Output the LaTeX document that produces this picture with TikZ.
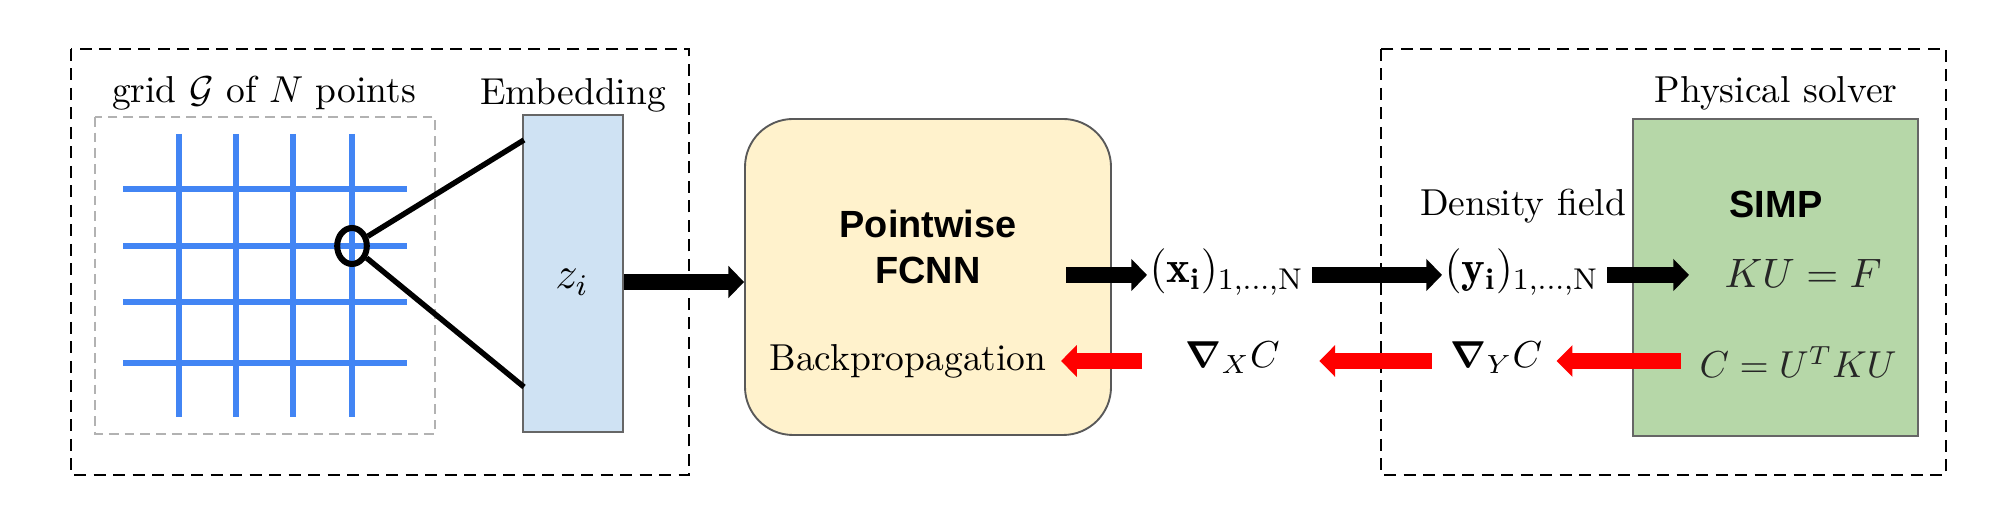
\documentclass[tikz,border=0pt]{standalone}
\usepackage{amsmath,bm}
\usepackage{fontspec}
\newfontfamily\sansfnt{Liberation Sans}
\usetikzlibrary{arrows.meta,shapes.geometric}
\definecolor{gridblue}{RGB}{66,133,244}
\definecolor{embfill}{HTML}{CFE2F3}
\definecolor{fcnnfill}{HTML}{FFF2CC}
\definecolor{simpfill}{HTML}{B6D7A8}
\definecolor{boxedge}{HTML}{666666}
\tikzset{
  txt/.style={inner sep=0.5pt, font=\fontsize{10}{12}\selectfont},
  mathtxt/.style={inner sep=0.5pt, font=\fontsize{10.95}{13}\selectfont},
  gradtxt/.style={inner sep=0.5pt, font=\fontsize{10}{12}\selectfont},
  seqtxt/.style={inner sep=0.5pt, font=\fontsize{12}{14}\selectfont},
  sansbold/.style={inner sep=0.5pt, font=\sansfnt\bfseries\fontsize{10.1}{12.3}\selectfont},
  outerframe/.style={draw=black, line width=0.55pt, dash pattern=on 3.2pt off 2pt},
  gridframe/.style={draw=black!30, line width=0.45pt, dash pattern=on 2.6pt off 1.6pt},
  gridline/.style={draw=gridblue, line width=1.35pt},
  blockbox/.style={draw=boxedge, line width=0.5pt, inner sep=0pt},
  blkarrow/.style={draw=black, line width=4.2pt, -{Triangle[length=4.2pt,width=8.4pt]}},
  redarrow/.style={draw=red, line width=4.2pt, -{Triangle[length=4.2pt,width=8.2pt]}},
  linkline/.style={draw=black, line width=1.45pt},
}
\begin{document}
\begin{tikzpicture}[x=0.26667pt,y=-0.26667pt]
\useasboundingbox (0,0) rectangle (2000,525);
\fill[white] (0,0) rectangle (2000,525);

% outer dashed frames
\draw[outerframe] (71,49) rectangle (689,475);
\draw[outerframe] (1381,49) rectangle (1946,475);

% grid
\draw[gridframe] (95,117) rectangle (435,434);
\foreach \gx in {179,236,293,352} \draw[gridline] (\gx,134) -- (\gx,417);
\foreach \gy in {189,246,302,363} \draw[gridline] (123,\gy) -- (407,\gy);
\node[txt, anchor=base] (gridlab) at (264,103) {grid $\mathcal{G}$ of $N$ points};

% selected point
\node[ellipse, draw=black, line width=1.6pt, minimum width=7.9pt, minimum height=9.6pt, inner sep=0pt] (circ) at (352,246) {};

% embedding
\node[blockbox, fill=embfill, minimum width=26.67pt, minimum height=84.53pt] (emb) at (573,273.5) {};
\node[txt, anchor=base] (emblab) at (573,105) {Embedding};
\node[inner sep=0.5pt, font=\large] (zi) at (572,282) {$z_i$};
\coordinate (e1) at (524,140);
\coordinate (e2) at (524,387);
\draw[linkline] (circ) -- (e1);
\draw[linkline] (circ) -- (e2);

% FCNN
\node[blockbox, draw=black!65, fill=fcnnfill, rounded corners=12.8pt, minimum width=97.6pt, minimum height=84.27pt] (fcnn) at (928,277) {};
\node[sansbold, align=center] (fcnntxt) at (928,247) {Pointwise\\FCNN};
\node[txt, anchor=base] (bp) at (908,371) {Backpropagation};

% labels
\node[seqtxt, anchor=base west] (xlab) at (1147,283) {$(\mathbf{x}_{\mathbf{i}})_{1,\ldots,\mathrm{N}}$};
\node[seqtxt, anchor=base west] (ylab) at (1442,283) {$(\mathbf{y}_{\mathbf{i}})_{1,\ldots,\mathrm{N}}$};
\node[txt, anchor=base] (dens) at (1523,216) {Density field};
\node[gradtxt, anchor=base west] (gx) at (1183,368) {$\boldsymbol{\nabla}_X C$};
\node[gradtxt, anchor=base west] (gy) at (1448,368) {$\boldsymbol{\nabla}_Y C$};

% physical solver
\node[blockbox, fill=simpfill, minimum width=76pt, minimum height=84.53pt] (simp) at (1775.5,277.5) {};
\node[txt, anchor=base] (phys) at (1776,103) {Physical solver};
\node[sansbold, anchor=base] (simptxt) at (1776,218) {SIMP};
\node[mathtxt, anchor=base west, text=black!85] (kuf) at (1722,288) {$KU=F$};
\node[gradtxt, anchor=base west, text=black!85] (cuk) at (1697,378) {$C=U^TKU$};

% forward arrows
\coordinate (a2s) at (1066,275);
\coordinate (rl) at (0,361);
\draw[blkarrow] (emb.east |- zi) -- (fcnn.west |- zi);
\draw[blkarrow] (a2s) -- (xlab.west |- a2s);
\draw[blkarrow, shorten <=1.6pt] (xlab.east |- a2s) -- (ylab.west |- a2s);
\draw[blkarrow, shorten <=1.6pt, shorten >=8.8pt] (ylab.east |- a2s) -- (kuf.west |- a2s);

% backward arrows
\draw[redarrow, shorten <=4.3pt, shorten >=3.2pt] (cuk.west |- rl) -- (gy.east |- rl);
\draw[redarrow, shorten <=4.3pt, shorten >=9.9pt] (gy.west |- rl) -- (gx.east |- rl);
\draw[redarrow, shorten <=10.9pt, shorten >=3.2pt] (gx.west |- rl) -- (bp.east |- rl);
\end{tikzpicture}
\end{document}
